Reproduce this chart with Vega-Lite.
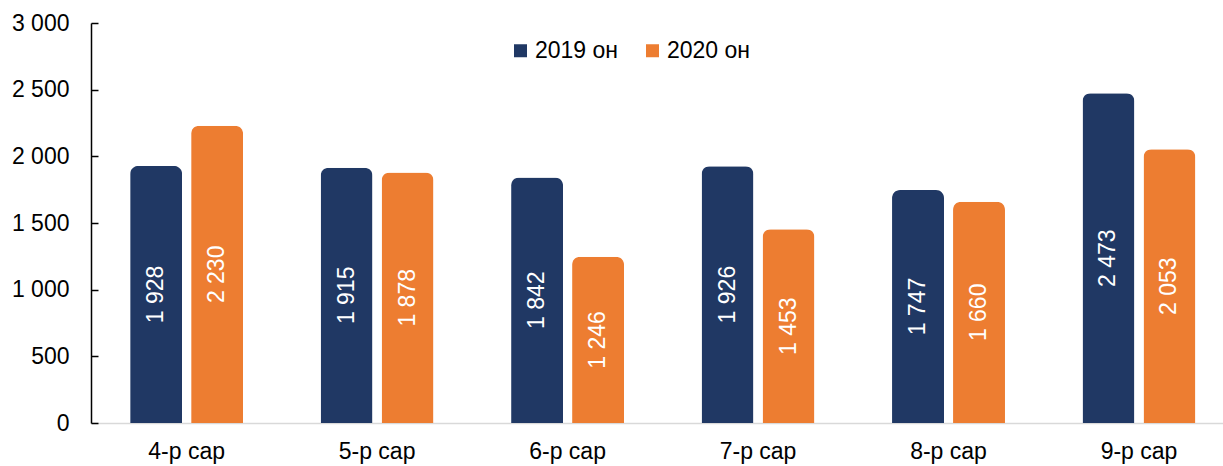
{
  "$schema": "https://vega.github.io/schema/vega-lite/v6.json",
  "width": 1132,
  "height": 400,
  "padding": {"left": 91, "top": 23, "right": 0, "bottom": 43},
  "autosize": {"type": "none"},
  "config": {
    "view": {"stroke": null},
    "font": "Liberation Sans",
    "locale": {"number": {"decimal": ",", "thousands": " ", "grouping": [3], "currency": ["", ""]}}
  },
  "data": {
    "values": [
      {"month": "4-р сар", "year": "2019 он", "value": 1928},
      {"month": "4-р сар", "year": "2020 он", "value": 2230},
      {"month": "5-р сар", "year": "2019 он", "value": 1915},
      {"month": "5-р сар", "year": "2020 он", "value": 1878},
      {"month": "6-р сар", "year": "2019 он", "value": 1842},
      {"month": "6-р сар", "year": "2020 он", "value": 1246},
      {"month": "7-р сар", "year": "2019 он", "value": 1926},
      {"month": "7-р сар", "year": "2020 он", "value": 1453},
      {"month": "8-р сар", "year": "2019 он", "value": 1747},
      {"month": "8-р сар", "year": "2020 он", "value": 1660},
      {"month": "9-р сар", "year": "2019 он", "value": 2473},
      {"month": "9-р сар", "year": "2020 он", "value": 2053}
    ]
  },
  "encoding": {
    "x": {
      "field": "month", "type": "nominal", "sort": null,
      "scale": {"paddingInner": 0.407, "paddingOuter": 0.175, "align": 0.587},
      "axis": {
        "title": null, "labelAngle": 0, "ticks": false,
        "domainColor": "#d9d9d9", "domainWidth": 1.5,
        "labelFontSize": 23, "labelColor": "#000000", "labelPadding": 17
      }
    },
    "xOffset": {
      "field": "year", "type": "nominal",
      "scale": {"paddingInner": 0.148, "paddingOuter": 0}
    }
  },
  "layer": [
    {
      "mark": {"type": "bar", "cornerRadiusTopLeft": 8, "cornerRadiusTopRight": 8},
      "encoding": {
        "y": {
          "field": "value", "type": "quantitative",
          "scale": {"domain": [0, 3000], "nice": false},
          "axis": {
            "title": null, "grid": false,
            "values": [0, 500, 1000, 1500, 2000, 2500, 3000],
            "format": ",d",
            "domainColor": "#000000", "domainWidth": 1.5,
            "tickColor": "#000000", "tickWidth": 1.5, "tickSize": -7,
            "labelFontSize": 23, "labelColor": "#000000", "labelPadding": 29
          }
        },
        "color": {
          "field": "year", "type": "nominal",
          "scale": {"domain": ["2019 он", "2020 он"], "range": ["#203864", "#ED7D31"]},
          "legend": {
            "title": null, "orient": "none", "legendX": 418, "legendY": 16,
            "direction": "horizontal", "symbolType": "square", "symbolSize": 169,
            "symbolStrokeWidth": 0, "labelFontSize": 23, "labelColor": "#000000",
            "columnPadding": 22, "labelOffset": 3, "padding": 0
          }
        }
      }
    },
    {
      "mark": {"type": "text", "angle": 270, "align": "center", "baseline": "middle", "color": "#ffffff", "fontSize": 23},
      "encoding": {
        "y": {"field": "value", "type": "quantitative", "scale": {"domain": [0, 6000], "nice": false}, "axis": null},
        "text": {"field": "value", "type": "quantitative", "format": ",d"}
      }
    }
  ],
  "resolve": {"scale": {"y": "independent"}}
}
